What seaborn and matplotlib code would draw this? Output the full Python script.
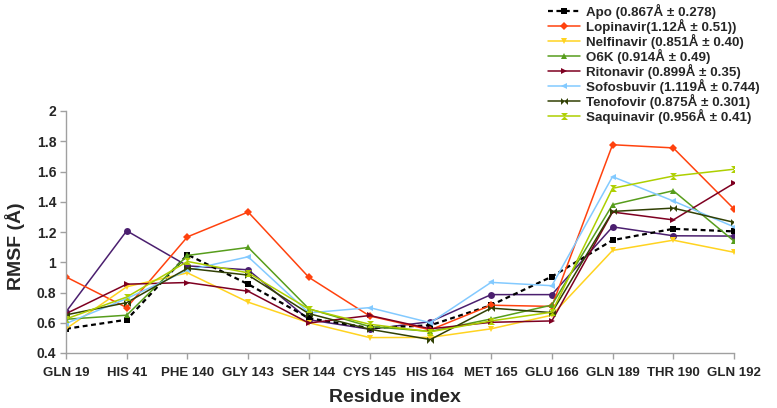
import numpy as np
import pandas as pd
import matplotlib
matplotlib.use("Agg")
import matplotlib.pyplot as plt
import seaborn as sns

# ---- data ----
residues = ["GLN 19", "HIS 41", "PHE 140", "GLY 143", "SER 144", "CYS 145",
            "HIS 164", "MET 165", "GLU 166", "GLN 189", "THR 190", "GLN 192"]

apo        = [0.56, 0.62, 1.05, 0.855, 0.63, 0.565, 0.583, 0.716, 0.905, 1.146, 1.221, 1.204]
lopinavir  = [0.903, 0.70, 1.168, 1.332, 0.90, 0.645, 0.553, 0.716, 0.708, 1.777, 1.756, 1.352]
nelfinavir = [0.56, 0.838, 0.93, 0.736, 0.60, 0.502, 0.503, 0.56, 0.65, 1.078, 1.146, 1.066]
o6k        = [0.623, 0.65, 1.045, 1.098, 0.692, 0.575, 0.543, 0.625, 0.717, 1.38, 1.473, 1.14]
ritonavir  = [0.66, 0.855, 0.866, 0.808, 0.598, 0.648, 0.56, 0.603, 0.612, 1.332, 1.28, 1.522]
sofosbuvir = [0.595, 0.76, 0.948, 1.036, 0.665, 0.70, 0.60, 0.867, 0.845, 1.566, 1.405, 1.234]
tenofovir  = [0.652, 0.733, 0.96, 0.915, 0.66, 0.557, 0.489, 0.697, 0.667, 1.336, 1.358, 1.264]
saquinavir = [0.625, 0.77, 1.005, 0.93, 0.69, 0.59, 0.54, 0.612, 0.67, 1.489, 1.57, 1.615]
series9    = [0.672, 1.208, 0.976, 0.95, 0.62, 0.557, 0.607, 0.786, 0.786, 1.234, 1.175, 1.173]  # not in legend

labels = ["Apo (0.867Å ± 0.278)", "Lopinavir(1.12Å ± 0.51))", "Nelfinavir (0.851Å ± 0.40)",
          "O6K (0.914Å ± 0.49)", "Ritonavir (0.899Å ± 0.35)", "Sofosbuvir (1.119Å ± 0.744)",
          "Tenofovir (0.875Å ± 0.301)", "Saquinavir (0.956Å ± 0.41)"]

# ---- style ----
sns.set_theme(style="white")
plt.rcParams['font.family'] = ['Liberation Sans', 'DejaVu Sans']
plt.rcParams['font.weight'] = 'bold'

bowtie_h = [(-1, -1), (1, 1), (1, -1), (-1, 1), (-1, -1)]
bowtie_v = [(-1, -1), (1, 1), (-1, 1), (1, -1), (-1, -1)]

fig = plt.figure(figsize=(7.77, 4.08), dpi=100)
ax = fig.add_axes([66 / 777, 1 - 353 / 408, 668 / 777, 242 / 408])

x = np.arange(len(residues))

# unlabelled purple series drawn first
sns.lineplot(x=x, y=series9, color="#4b1f6f", marker="o", markersize=5,
             markeredgewidth=0, lw=1.1, ax=ax, label="_nolegend_")

styles = [
    (apo,        "black",   "s", "--", 1.6, 5),
    (lopinavir,  "#ff420e", "D", "-",  1.1, 4),
    (nelfinavir, "#ffd320", "v", "-",  1.1, 5),
    (o6k,        "#579d1c", "^", "-",  1.1, 5),
    (ritonavir,  "#7e0021", ">", "-",  1.1, 5),
    (sofosbuvir, "#83caff", "<", "-",  1.1, 5),
    (tenofovir,  "#314004", bowtie_h, "-", 1.1, 5),
    (saquinavir, "#aecf00", bowtie_v, "-", 1.1, 5),
]
handles = []
for (vals, col, mk, ls, lw, ms), lab in zip(styles, labels):
    sns.lineplot(x=x, y=vals, color=col, marker=mk, markersize=ms, markeredgewidth=0,
                 lw=lw, ax=ax, label=lab)
    ln = ax.lines[-1]
    if ls == "--":
        ln.set_dashes((2.2, 1.6))
    handles.append(ln)

ax.get_legend().remove()

ax.set_xlim(0, 11)
ax.set_ylim(0.4, 2.0)
ax.set_xticks(x)
ax.set_xticklabels(residues, fontsize=9.5, fontweight='bold')
ax.set_yticks([0.4, 0.6, 0.8, 1.0, 1.2, 1.4, 1.6, 1.8, 2.0])
ax.set_yticklabels(["0.4", "0.6", "0.8", "1", "1.2", "1.4", "1.6", "1.8", "2"],
                   fontsize=10, fontweight='bold')

for side in ["top", "right"]:
    ax.spines[side].set_visible(False)
for side in ["left", "bottom"]:
    ax.spines[side].set_color("#a0a0a0")
    ax.spines[side].set_linewidth(1.0)
ax.tick_params(axis='both', which='major', length=4, width=1, color="#a0a0a0",
               direction='out', bottom=True, left=True, pad=3)
ax.tick_params(axis='x', pad=6)

ax.set_xlabel("Residue index", fontsize=14, fontweight='bold')
ax.set_ylabel("RMSF (Å)", fontsize=14, fontweight='bold')
ax.xaxis.set_label_coords(0.4925, -0.148)
ax.yaxis.set_label_coords(-0.061, 0.442)

fig.legend(handles=handles, labels=labels, loc='upper left',
           bbox_to_anchor=(548 / 777, 1 - 4 / 408), frameon=False,
           prop={'weight': 'bold', 'size': 9.6},
           handlelength=2.4, handletextpad=0.45, labelspacing=0.0,
           borderpad=0, borderaxespad=0)

fig.savefig("out.png", dpi=100)
